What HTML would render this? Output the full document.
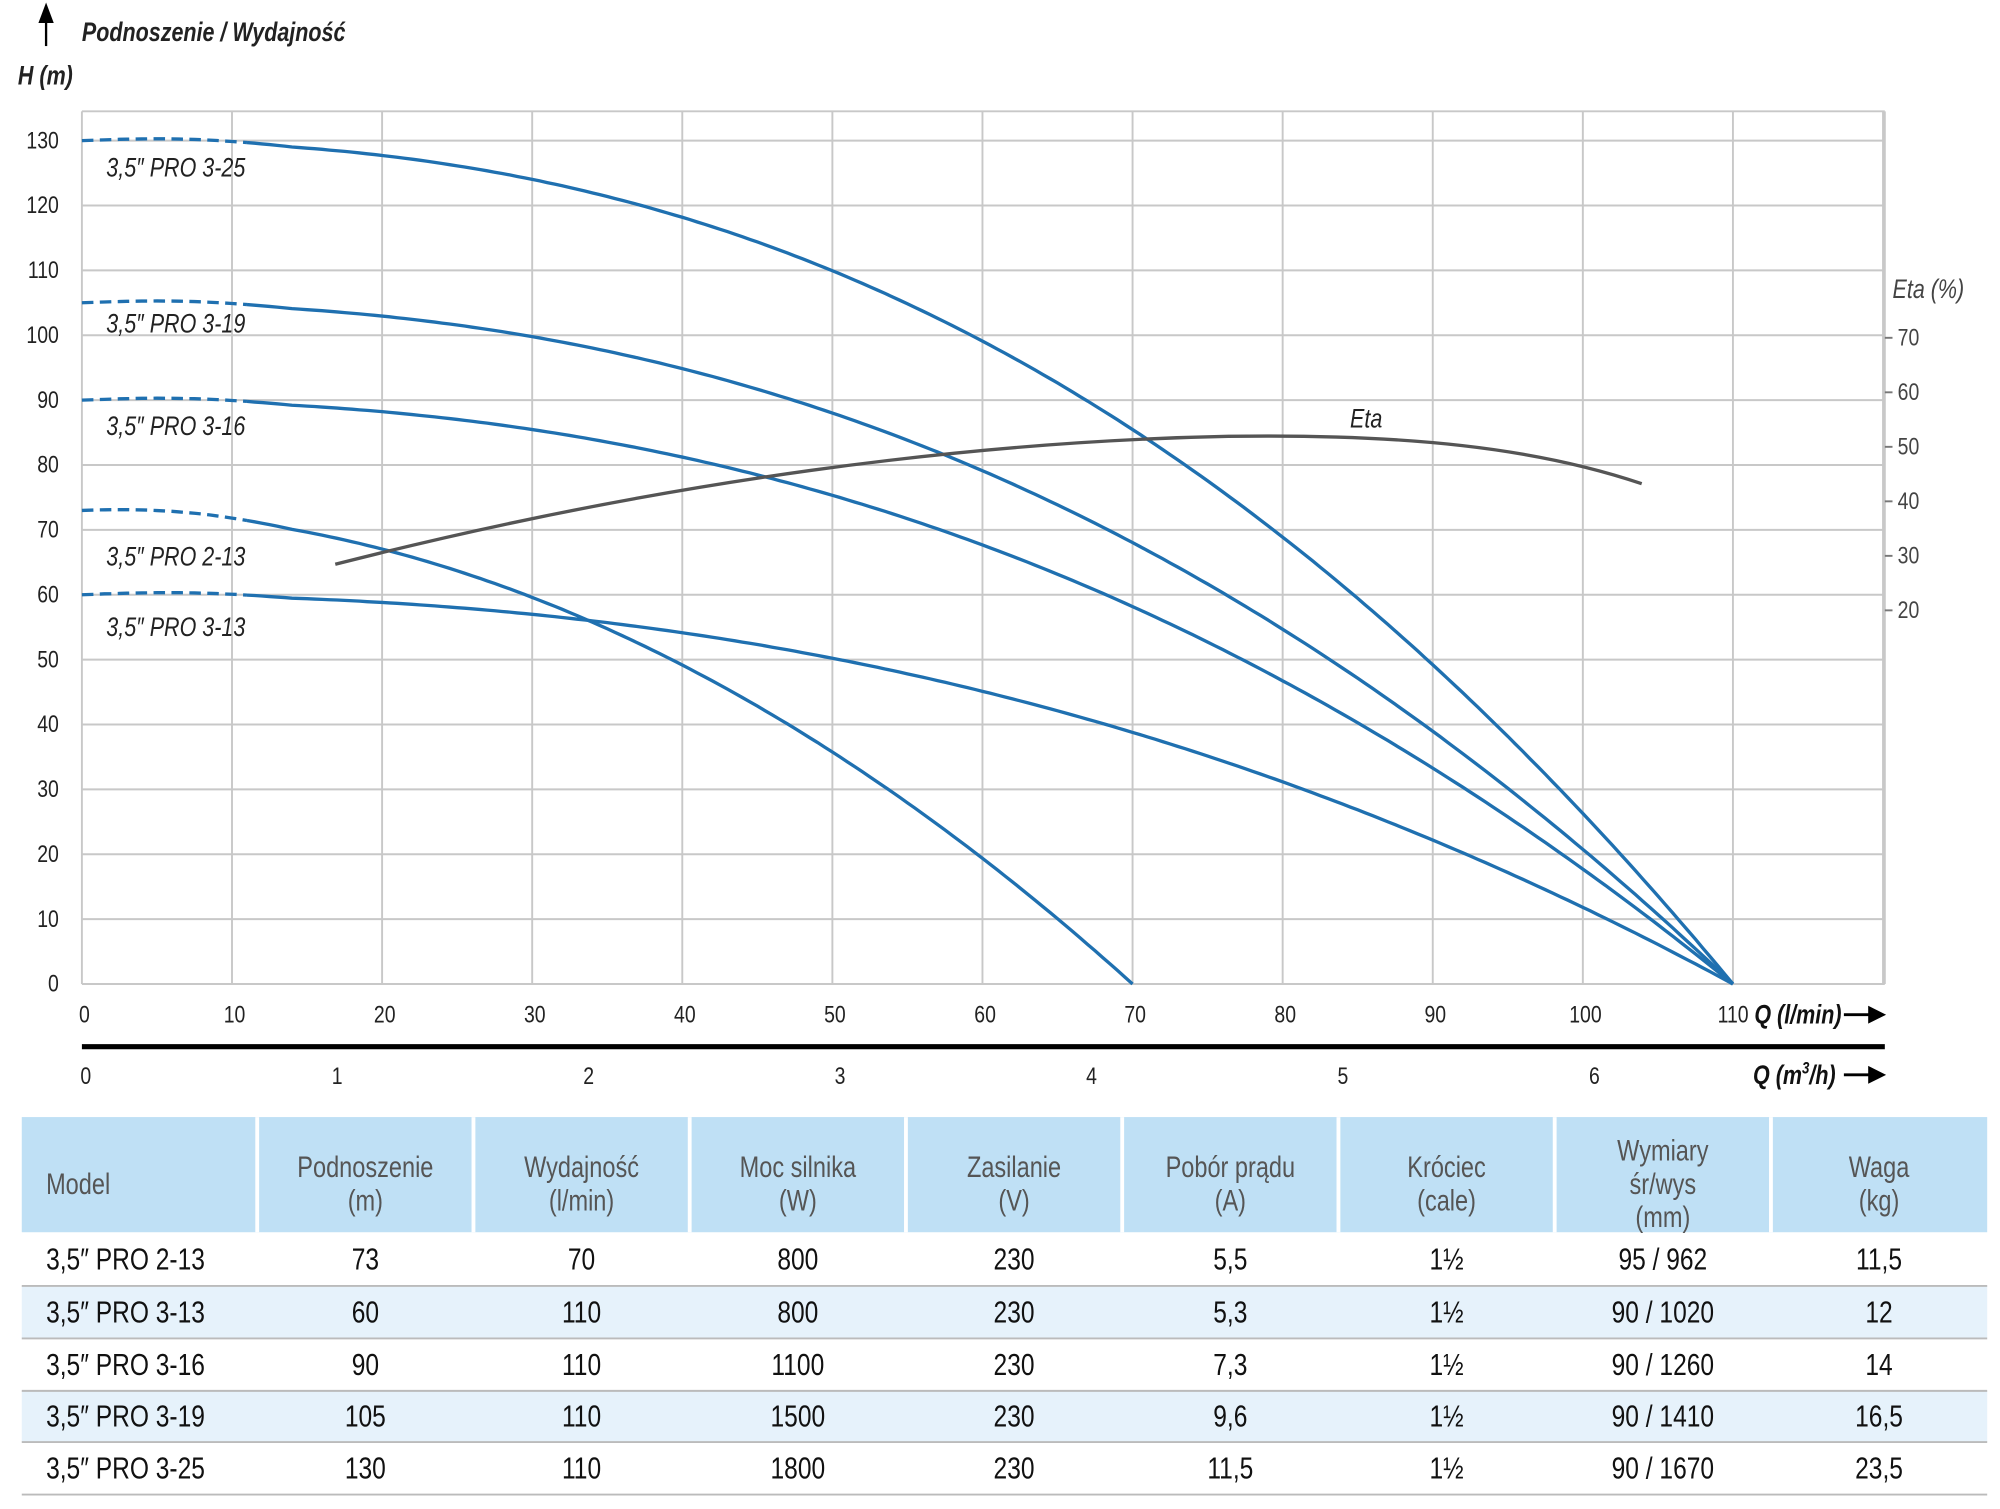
<!DOCTYPE html>
<html><head><meta charset="utf-8">
<style>
html,body{margin:0;padding:0;background:#fff;}
svg{display:block;}
text{font-family:"Liberation Sans",sans-serif;}
</style></head>
<body>
<svg id="s" width="2000" height="1509" viewBox="0 0 1563 1179.3" xmlns="http://www.w3.org/2000/svg">
<rect width="1563" height="1180" fill="#fff"/>
<g id="grid" stroke="#c8c8c8" stroke-width="1.5" fill="none"></g>
<g id="curves" fill="none" stroke-width="2.6"></g>
<g id="labels" font-size="18" fill="#222"></g>
<line x1="36" y1="36" x2="36" y2="12" stroke="#000" stroke-width="1.8"/>
<polygon points="36,2 30,18 42,18" fill="#000"/>
<line x1="64" y1="818" x2="1473" y2="818" stroke="#000" stroke-width="4"/>
<g stroke="#000" stroke-width="2.2"><line x1="1441" y1="793" x2="1466" y2="793"/><line x1="1441" y1="840" x2="1466" y2="840"/></g>
<polygon points="1474,793 1460,786 1460,800" fill="#000"/>
<polygon points="1474,840 1460,833 1460,847" fill="#000"/>
<g id="table"></g>
</svg>
<script>
var NS="http://www.w3.org/2000/svg";
var SX=0.8;
function el(p,t,a,txt){var e=document.createElementNS(NS,t);for(var k in a)e.setAttribute(k,a[k]);if(txt!==undefined)e.textContent=txt;(typeof p=="string"?document.getElementById(p):p).appendChild(e);return e;}
function T(p,x,y,s,a){a=a||{};a.x=(x/SX).toFixed(1);a.y=y;a.transform="scale("+SX+",1)";return el(p,"text",a,s);}
function X(q){return 64+11.73*q;}
function Y(h){return 769-5.07*h;}
for(var i=0;i<=12;i++){el("grid","line",{x1:X(i*10),y1:87,x2:X(i*10),y2:769});}
el("grid","line",{x1:1473,y1:87,x2:1473,y2:769});
el("grid","line",{x1:64,y1:87,x2:1473,y2:87});
for(var h=0;h<=130;h+=10){el("grid","line",{x1:64,y1:Y(h),x2:1473,y2:Y(h)});
 T("labels",46,Y(h)+6,""+h,{"text-anchor":"end","font-size":"19"});}
for(var q=0;q<=110;q+=10){T("labels",X(q)+(q==110?-12:2),799,""+q,{"text-anchor":q==110?"start":"middle","font-size":"19"});}
for(var m=0;m<=6;m++){T("labels",67+196.5*m,847,""+m,{"text-anchor":"middle","font-size":"19"});}
var et=[70,60,50,40,30,20];
for(var j=0;j<6;j++){var y=264+j*42.6;T("labels",1483,y+6,""+et[j],{"font-size":"19",fill:"#444"});el("grid","line",{x1:1473,y1:y,x2:1479,y2:y,stroke:"#777"});}
T("labels",64,32,"Podnoszenie / Wydajność",{"font-size":"21","font-style":"italic","font-weight":"bold",fill:"#222"});
T("labels",14,66,"H (m)",{"font-size":"21","font-style":"italic","font-weight":"bold",fill:"#222"});
T("labels",1479,233,"Eta (%)",{"font-size":"21","font-style":"italic",fill:"#444"});
T("labels",1055,334,"Eta",{"font-size":"21","font-style":"italic",fill:"#222"});
T("labels",1371,800,"Q (l/min)",{"font-size":"21","font-style":"italic","font-weight":"bold",fill:"#111"});
var qm=T("labels",1370,847,"Q (m",{"font-size":"21","font-style":"italic","font-weight":"bold",fill:"#111"});
el(qm,"tspan",{"font-size":"13",dy:"-8"},"3");el(qm,"tspan",{dy:"8"},"/h)");
var C=[[130,110,2.37,"3,5″ PRO 3-25",138],[105,110,2.31,"3,5″ PRO 3-19",260],[90,110,2.3,"3,5″ PRO 3-16",340],[73,70,2.0,"3,5″ PRO 2-13",442],[60,110,2.3,"3,5″ PRO 3-13",497]];
C.forEach(function(c){
 function pt(q){var r=q/c[1];return [X(q),Y(c[0]*(1-Math.pow(r,c[2]))+0.4*Math.sin(Math.PI*Math.min(q/14,1)))];}
 var d="",d2="";
 for(var q=0;q<=11;q+=0.5){var p=pt(q);d+=(q?"L":"M")+p[0].toFixed(1)+","+p[1].toFixed(1);}
 for(var q=11;q<=c[1]+0.01;q+=0.5){var p=pt(q);d2+=(q==11?"M":"L")+p[0].toFixed(1)+","+p[1].toFixed(1);}
 el("curves","path",{d:d,stroke:"#1f70b0","stroke-dasharray":"9,5"});
 el("curves","path",{d:d2,stroke:"#1f70b0"});
 T("labels",83,c[4],c[3],{"font-size":"21","font-style":"italic"});
});
el("curves","path",{d:"M262,441 C520,375 760,345 960,341 C1100,339 1200,350 1283,378",stroke:"#555"});
var cols=[17,201,370,539,708,877,1046,1215,1384,1553];
el("table","rect",{x:17,y:873,width:1536,height:90,fill:"#bfe0f5"});
var rows=[963,1005,1046,1087,1127,1168];
el("table","rect",{x:17,y:1005,width:1536,height:41,fill:"#e6f2fb"});
el("table","rect",{x:17,y:1087,width:1536,height:40,fill:"#e6f2fb"});
for(var i=1;i<cols.length-1;i++)el("table","line",{x1:cols[i],y1:873,x2:cols[i],y2:963,stroke:"#fff","stroke-width":3});
for(var i=1;i<rows.length;i++)el("table","line",{x1:17,y1:rows[i],x2:1553,y2:rows[i],stroke:"#bbb","stroke-width":1.5});
var H=[["Model"],["Podnoszenie","(m)"],["Wydajność","(l/min)"],["Moc silnika","(W)"],["Zasilanie","(V)"],["Pobór prądu","(A)"],["Króciec","(cale)"],["Wymiary","śr/wys","(mm)"],["Waga","(kg)"]];
H.forEach(function(h,i){var cx=(cols[i]+cols[i+1])/2;var n=h.length;var y0=926-(n-1)*13+7;
 h.forEach(function(t,k){T("table",i==0?36:cx,y0+k*26,t,{"text-anchor":i==0?"start":"middle","font-size":"23",fill:"#555"});});});
var D=[["3,5″ PRO 2-13","73","70","800","230","5,5","1½","95 / 962","11,5"],
["3,5″ PRO 3-13","60","110","800","230","5,3","1½","90 / 1020","12"],
["3,5″ PRO 3-16","90","110","1100","230","7,3","1½","90 / 1260","14"],
["3,5″ PRO 3-19","105","110","1500","230","9,6","1½","90 / 1410","16,5"],
["3,5″ PRO 3-25","130","110","1800","230","11,5","1½","90 / 1670","23,5"]];
D.forEach(function(r,j){var y=(rows[j]+rows[j+1])/2+8;
 r.forEach(function(t,i){var cx=(cols[i]+cols[i+1])/2;T("table",i==0?36:cx,y,t,{"text-anchor":i==0?"start":"middle","font-size":"24",fill:"#111"});});});
</script>
</body></html>
